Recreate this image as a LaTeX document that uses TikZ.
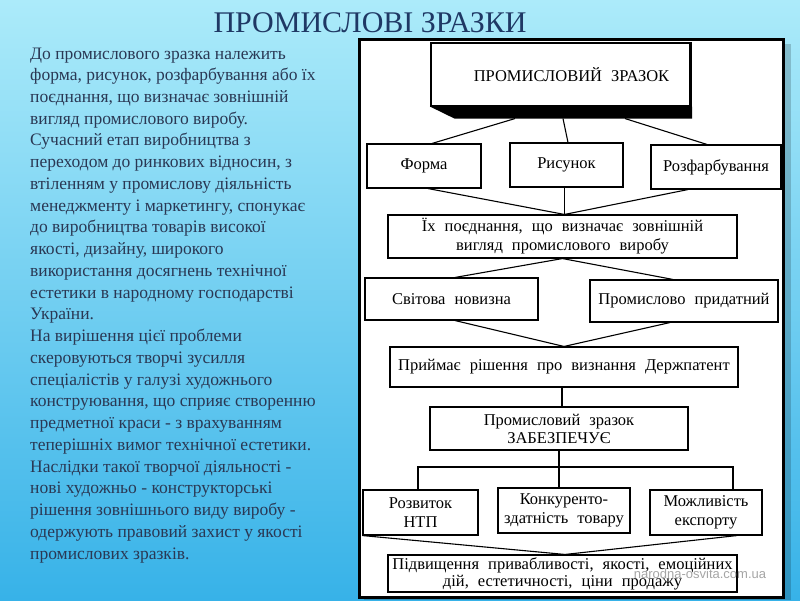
\documentclass[tikz,border=0pt]{standalone}
\usepackage{fontspec}
\setmainfont{Liberation Serif}
\newfontfamily\markfont{Liberation Sans}
\definecolor{bgtop}{RGB}{172,235,250}
\definecolor{bgbottom}{RGB}{55,178,232}
\definecolor{titleblue}{RGB}{31,56,100}
\definecolor{sidetext}{RGB}{42,56,84}
\newcommand{\diagfont}{\fontsize{16.5}{19}\selectfont\spaceskip=0.55em plus 0.1em minus 0.05em\relax}
\newcommand{\sidefont}{\fontsize{17.5}{21.74}\selectfont}
\tikzset{
panel/.style={draw=black, line width=3pt, fill=white},
box_item/.style={rectangle, draw, line width=1.1pt, fill=white, inner sep=0pt, align=center, font=\diagfont},
side_line/.style={anchor=base west, inner sep=0pt, text=sidetext, font=\sidefont},
link/.style={line width=1.1pt}
}

\begin{document}
\begin{tikzpicture}[x=1pt, y=-1pt]
    \useasboundingbox (0,0) rectangle (800,600);
    \shade[top color=bgtop, bottom color=bgbottom] (0,0) rectangle (800,600);

    \node[text=titleblue, font=\fontsize{30}{34}\selectfont, inner sep=0pt] (slide_title) at (370,23) {ПРОМИСЛОВІ ЗРАЗКИ};

    % text on the left
    \foreach \row [count=\i] in {
        {До промислового зразка належить},
        {форма, рисунок, розфарбування або їх},
        {поєднання, що визначає зовнішній},
        {вигляд промислового виробу.},
        {Сучасний етап виробництва з},
        {переходом до ринкових відносин, з},
        {втіленням у промислову діяльність},
        {менеджменту і маркетингу, спонукає},
        {до виробництва товарів високої},
        {якості, дизайну, широкого},
        {використання досягнень технічної},
        {естетики в народному господарстві},
        {України.},
        {На вирішення цієї проблеми},
        {скеровуються творчі зусилля},
        {спеціалістів у галузі художнього},
        {конструювання, що сприяє створенню},
        {предметної краси - з врахуванням},
        {теперішніх вимог технічної естетики.},
        {Наслідки такої творчої діяльності -},
        {нові художньо - конструкторські},
        {рішення зовнішнього виду виробу -},
        {одержують правовий захист у якості},
        {промислових зразків.}}
        \node[side_line] (side_\i) at (30, {59+21.74*(\i-1)}) {\row};

    % scheme
    \fill[black, opacity=0.18] (364,44) rectangle (791,600);
    \draw[panel] (359,39) rectangle (783,597);

    \node[box_item, minimum width=259pt, minimum height=63pt] (top_item) at (560.5,74.5) {\hspace*{22pt}ПРОМИСЛОВИЙ ЗРАЗОК};
    \fill ([xshift=-0.5pt]top_item.south west) -- ([xshift=24pt,yshift=-12pt]top_item.south west) -- ([xshift=1.5pt,yshift=-12pt]top_item.south east) -- ([xshift=1.5pt]top_item.south east) -- cycle;
    \draw[line width=3pt] (top_item.north east) -- (top_item.south east);

    \node[box_item, minimum width=114pt, minimum height=44pt] (form_box) at (424,166) {Форма};
    \node[box_item, minimum width=113pt, minimum height=44pt] (pattern_box) at (566.5,165) {Рисунок};
    \node[box_item, minimum width=130pt, minimum height=44pt] (colour_box) at (716,167) {Розфарбування};
    \node[box_item, minimum width=349pt, minimum height=43pt] (combo_box) at (562.5,236.5) {Їх поєднання, що визначає зовнішній\\вигляд промислового виробу};
    \node[box_item, minimum width=173pt, minimum height=42pt] (novelty_box) at (451.5,299) {Світова новизна};
    \node[box_item, minimum width=188pt, minimum height=42pt] (usable_box) at (684,301) {Промислово придатний};
    \node[box_item, minimum width=348pt, minimum height=40pt] (patent_box) at (564,367) {Приймає рішення про визнання Держпатент};
    \node[box_item, minimum width=258pt, minimum height=43pt] (ensures_box) at (559,428.5) {Промисловий зразок\\[-1pt]ЗАБЕЗПЕЧУЄ};
    \node[box_item, minimum width=115pt, minimum height=45pt] (ntp_box) at (420.5,512.5) {Розвиток\\НТП};
    \node[box_item, minimum width=132pt, minimum height=45pt] (compete_box) at (564,510.5) {Конкуренто-\\здатність товару};
    \node[box_item, minimum width=112pt, minimum height=45pt] (export_box) at (706,512.5) {Можливість\\експорту};
    \node[box_item, minimum width=349pt, minimum height=37pt] (result_box) at (562.5,573.5) {Підвищення привабливості, якості, емоційних\\[-2pt]дій, естетичності, ціни продажу};

    \node[text=gray, opacity=0.7, font=\markfont\fontsize{13}{15}\selectfont, inner sep=0pt] (site_mark) at (700,574) {narodna-osvita.com.ua};

    \draw[link] ([xshift=-45.5pt,yshift=-12pt]top_item.south) -- ([xshift=8pt]form_box.north);
    \draw[link] ([xshift=2.5pt,yshift=-12pt]top_item.south) -- ([xshift=1.5pt]pattern_box.north);
    \draw[link] ([xshift=64.5pt,yshift=-12pt]top_item.south) -- ([xshift=-9pt]colour_box.north);

    \draw[link] ([xshift=4pt]form_box.south) -- ([xshift=2pt]combo_box.north);
    \draw[link] ([xshift=-2pt]pattern_box.south) -- ([xshift=2pt]combo_box.north);
    \draw[link] ([xshift=-28pt]colour_box.south) -- ([xshift=2pt]combo_box.north);

    \draw[link] (combo_box.south) -- ([xshift=3.5pt]novelty_box.north);
    \draw[link] (combo_box.south) -- ([xshift=-11pt]usable_box.north);
    \draw[link] ([xshift=3.5pt]novelty_box.south) -- (patent_box.north);
    \draw[link] ([xshift=-14pt]usable_box.south) -- (patent_box.north);
    \draw[link] ([xshift=-2pt]patent_box.south) -- ([xshift=3pt]ensures_box.north);

    \coordinate (fork) at (559,467);
    \draw[link] (ensures_box.south) -- (fork);
    \draw[link] ([xshift=-2.5pt]ntp_box.north) |- (fork) -| ([xshift=27pt]export_box.north);
    \draw[link] (fork) -- (fork |- compete_box.north);

    \draw[link] (ntp_box.south west) -- ([xshift=2.5pt]result_box.north);
    \draw[link] ([xshift=31pt]export_box.south) -- ([xshift=2.5pt]result_box.north);
\end{tikzpicture}
\end{document}
